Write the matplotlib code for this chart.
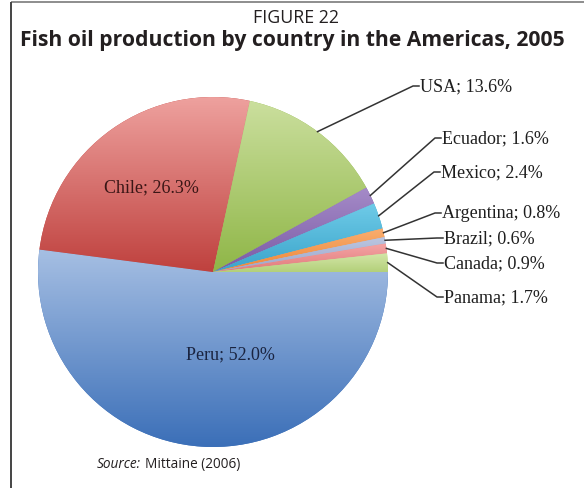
import matplotlib
matplotlib.use("Agg")
import matplotlib.pyplot as plt
import numpy as np
from matplotlib.colors import to_rgb

# ---- data ----
countries = ["Peru", "Chile", "USA", "Ecuador", "Mexico", "Argentina", "Brazil", "Canada", "Panama"]
shares = [52.0, 26.3, 13.6, 1.6, 2.4, 0.8, 0.6, 0.9, 1.7]
light_colors = ["#A6BFE3", "#EEA19E", "#CBDF9E", "#A58BC8", "#6FCBE8", "#F9AE70", "#BCC6E0", "#F5A5A5", "#D3E6A8"]
dark_colors = ["#3B6FB8", "#BF413E", "#8FB647", "#7A5AA5", "#3AA4CA", "#EE8636", "#9AA6CB", "#E07A7B", "#B3D07A"]

W, H = 584, 489
fig = plt.figure(figsize=(W / 100, H / 100), dpi=100)
ax = fig.add_axes([0, 0, 1, 1])

def Y(py):
    return H - py

# pie
cx, cy, R = 213, Y(273), 175
wedges, _ = ax.pie(shares, startangle=0, counterclock=False, center=(cx, cy), radius=R,
                   colors=dark_colors, wedgeprops=dict(linewidth=0), frame=True)
ax.set_xlim(0, W)
ax.set_ylim(0, H)
ax.set_aspect("equal")
ax.axis("off")

for w, lc, dc in zip(wedges, light_colors, dark_colors):
    ext = w.get_path().get_extents()
    n = 256
    t = np.linspace(0, 1, n)[:, None]
    c0 = np.array(to_rgb(dc))
    c1 = np.array(to_rgb(lc))
    grad = (c0 * (1 - t) + c1 * t)[:, None, :]
    im = ax.imshow(grad, extent=[ext.x0, ext.x1, ext.y0, ext.y1], origin="lower",
                   aspect="auto", interpolation="bilinear", zorder=2)
    im.set_clip_path(w)

# frame: top and left lines
ax.plot([11, W], [Y(3), Y(3)], color="#7a7a7a", lw=1.2, solid_capstyle="butt", zorder=6)
ax.plot([11, 11], [Y(3), 0], color="#444444", lw=1.4, solid_capstyle="butt", zorder=6)

# titles
ax.text(296, Y(18), "FIGURE 22", ha="center", va="center", fontsize=12.8,
        family="Open Sans", color="#231f20")
ax.text(292, Y(41), "Fish oil production by country in the Americas, 2005", ha="center",
        va="center", fontsize=15.2, fontweight="bold", family="Open Sans", color="#231f20")

LBL = dict(fontsize=13, family="Liberation Serif", zorder=5)

# inside labels
ax.text(151, Y(188), "Chile; 26.3%", ha="center", va="center", color="#3a1616", **LBL)
ax.text(230, Y(355), "Peru; 52.0%", ha="center", va="center", color="#1a2440", **LBL)

# outside labels with leader lines (x of text left, y of baseline)
label_pos = {"USA": (420, 91), "Ecuador": (442, 143), "Mexico": (441, 177),
             "Argentina": (442, 218), "Brazil": (444, 243), "Canada": (444, 268),
             "Panama": (444, 302)}
for w, name, s in zip(wedges, countries, shares):
    if name not in label_pos:
        continue
    lx, ly = label_pos[name]
    mid = np.deg2rad((w.theta1 + w.theta2) / 2)
    px, py = cx + R * np.cos(mid), cy + R * np.sin(mid)
    yl = Y(ly - 4)
    ax.plot([px, lx - 7, lx - 1], [py, yl, yl], color="#333333", lw=1.1, zorder=4)
    ax.text(lx, Y(ly), f"{name}; {s:.1f}%", ha="left", va="baseline", color="#1e1e1e", **LBL)

# source
src = ax.text(97, Y(465), "Source:", ha="left", va="center", fontsize=9.8, style="italic",
              family="Open Sans", color="#231f20")
fig.canvas.draw()
bb = src.get_window_extent(fig.canvas.get_renderer())
x_end = ax.transData.inverted().transform((bb.x1, bb.y0))[0]
ax.text(x_end + 4, Y(465), "Mittaine (2006)", ha="left", va="center", fontsize=9.8,
        family="Open Sans", color="#231f20")

fig.savefig("out.png", dpi=100)
